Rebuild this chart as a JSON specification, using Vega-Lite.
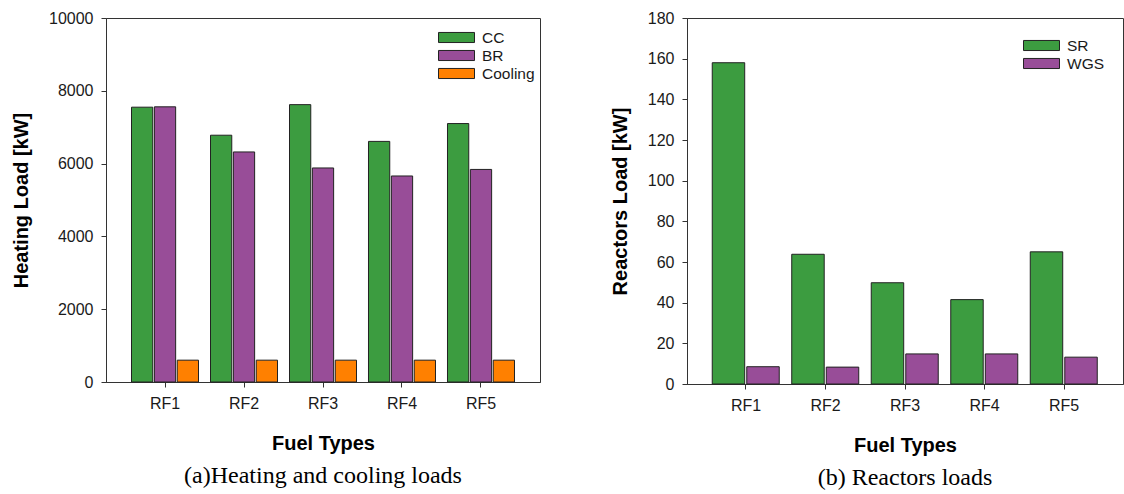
{
  "$schema": "https://vega.github.io/schema/vega-lite/v6.json",
  "background": "white",
  "padding": {"left": 11, "top": 9, "right": 0, "bottom": 0},
  "spacing": 68,
  "config": {
    "font": "Liberation Sans",
    "view": {"stroke": "#333", "strokeWidth": 1},
    "axis": {
      "labelFont": "Liberation Sans",
      "labelFontSize": 16,
      "labelColor": "#1a1a1a",
      "titleFont": "Liberation Sans",
      "titleFontSize": 20,
      "titleFontWeight": "bold",
      "titleColor": "#000",
      "domainColor": "#333",
      "tickColor": "#333",
      "tickSize": 5,
      "grid": false
    },
    "axisX": {"labelAngle": 0, "labelPadding": 8, "titlePadding": 22},
    "axisY": {"labelPadding": 8, "titlePadding": 17, "format": "d"},
    "legend": {
      "orient": "none",
      "title": null,
      "padding": 0,
      "labelFont": "Liberation Sans",
      "labelFontSize": 15.5,
      "labelColor": "#1a1a1a",
      "symbolType": "M-2,-0.56H2V0.56H-2Z",
      "symbolSize": 324,
      "symbolStrokeColor": "#222",
      "symbolStrokeWidth": 1,
      "symbolOpacity": 1,
      "labelOffset": 16,
      "rowPadding": 0
    },
    "title": {
      "font": "Liberation Serif",
      "fontSize": 24,
      "fontWeight": "normal",
      "color": "#000",
      "orient": "bottom",
      "anchor": "middle",
      "offset": 11
    }
  },
  "resolve": {
    "scale": {"color": "independent", "x": "independent", "xOffset": "independent", "y": "independent"},
    "legend": {"color": "independent"}
  },
  "hconcat": [
    {
      "width": 434,
      "height": 364,
      "title": "(a)Heating and cooling loads",
      "data": {
        "values": [
          {"fuel": "RF1", "series": "CC", "load": 7550},
          {"fuel": "RF1", "series": "BR", "load": 7560},
          {"fuel": "RF1", "series": "Cooling", "load": 600},
          {"fuel": "RF2", "series": "CC", "load": 6780},
          {"fuel": "RF2", "series": "BR", "load": 6320},
          {"fuel": "RF2", "series": "Cooling", "load": 600},
          {"fuel": "RF3", "series": "CC", "load": 7620},
          {"fuel": "RF3", "series": "BR", "load": 5880},
          {"fuel": "RF3", "series": "Cooling", "load": 600},
          {"fuel": "RF4", "series": "CC", "load": 6610},
          {"fuel": "RF4", "series": "BR", "load": 5660},
          {"fuel": "RF4", "series": "Cooling", "load": 600},
          {"fuel": "RF5", "series": "CC", "load": 7100},
          {"fuel": "RF5", "series": "BR", "load": 5840},
          {"fuel": "RF5", "series": "Cooling", "load": 600}
        ]
      },
      "mark": {"type": "bar", "stroke": "#222", "strokeWidth": 1, "opacity": 1},
      "encoding": {
        "x": {
          "field": "fuel", "type": "nominal",
          "scale": {"type": "band", "paddingInner": 0, "paddingOuter": 0.247},
          "axis": {"title": "Fuel Types"}
        },
        "xOffset": {
          "field": "series", "type": "nominal", "sort": ["CC", "BR", "Cooling"],
          "scale": {"type": "band", "domain": ["CC", "BR", "Cooling"], "range": [6, 73], "paddingInner": 0.07, "paddingOuter": 0}
        },
        "y": {
          "field": "load", "type": "quantitative",
          "scale": {"domain": [0, 10000], "nice": false},
          "axis": {"title": "Heating Load [kW]", "values": [0, 2000, 4000, 6000, 8000, 10000]}
        },
        "color": {
          "field": "series", "type": "nominal", "sort": ["CC", "BR", "Cooling"],
          "scale": {"domain": ["CC", "BR", "Cooling"], "range": ["#3c9c40", "#984d98", "#ff8000"]},
          "legend": {"legendX": 341, "legendY": 10}
        }
      }
    },
    {
      "width": 436,
      "height": 366,
      "title": "(b) Reactors loads",
      "data": {
        "values": [
          {"fuel": "RF1", "series": "SR", "load": 158},
          {"fuel": "RF1", "series": "WGS", "load": 8.5},
          {"fuel": "RF2", "series": "SR", "load": 63.8},
          {"fuel": "RF2", "series": "WGS", "load": 8.3},
          {"fuel": "RF3", "series": "SR", "load": 49.8},
          {"fuel": "RF3", "series": "WGS", "load": 14.8},
          {"fuel": "RF4", "series": "SR", "load": 41.5},
          {"fuel": "RF4", "series": "WGS", "load": 14.8},
          {"fuel": "RF5", "series": "SR", "load": 65},
          {"fuel": "RF5", "series": "WGS", "load": 13.2}
        ]
      },
      "mark": {"type": "bar", "stroke": "#222", "strokeWidth": 1, "opacity": 1},
      "encoding": {
        "x": {
          "field": "fuel", "type": "nominal",
          "scale": {"type": "band", "paddingInner": 0, "paddingOuter": 0.242},
          "axis": {"title": "Fuel Types"}
        },
        "xOffset": {
          "field": "series", "type": "nominal", "sort": ["SR", "WGS"],
          "scale": {"type": "band", "domain": ["SR", "WGS"], "range": [6, 73], "paddingInner": 0.06, "paddingOuter": 0}
        },
        "y": {
          "field": "load", "type": "quantitative",
          "scale": {"domain": [0, 180], "nice": false},
          "axis": {"title": "Reactors Load [kW]", "values": [0, 20, 40, 60, 80, 100, 120, 140, 160, 180]}
        },
        "color": {
          "field": "series", "type": "nominal", "sort": ["SR", "WGS"],
          "scale": {"domain": ["SR", "WGS"], "range": ["#3c9c40", "#984d98"]},
          "legend": {"legendX": 345, "legendY": 18}
        }
      }
    }
  ]
}
